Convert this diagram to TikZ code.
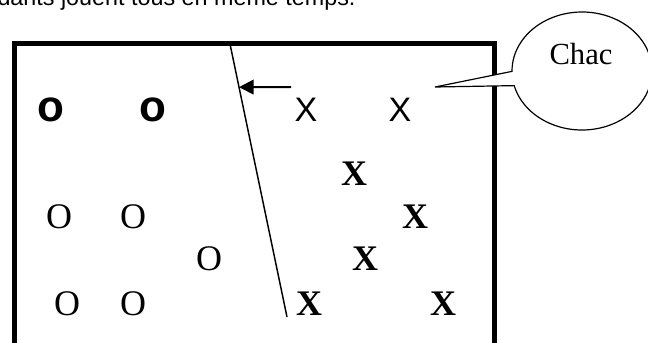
\documentclass[tikz,border=0pt]{standalone}
\usepackage{fontspec}
\setmainfont{Liberation Serif}
\newfontfamily\arialfont{Liberation Sans}
\usetikzlibrary{arrows.meta,calc,shapes.callouts}

\tikzset{every picture/.style={line width=0.75pt}}
\tikzset{
  ohead/.style={inner sep=0pt,font=\arialfont\bfseries\fontsize{33}{36}\selectfont},
  xhead/.style={inner sep=0pt,font=\arialfont\fontsize{25.5}{28}\selectfont},
  omark/.style={inner sep=0pt,font=\fontsize{27}{30}\selectfont},
  xmark/.style={inner sep=0pt,font=\bfseries\fontsize{27}{30}\selectfont}
}

\begin{document}
\begin{tikzpicture}[x=0.75pt,y=0.75pt,yscale=-1,xscale=1]
\useasboundingbox (0,0) rectangle (648,342);
\clip (0,0) rectangle (648,342);

% Text Node
\node [inner sep=0pt,anchor=base east,font=\arialfont\fontsize{17.5}{20}\selectfont] (caption) at (356,6) {dants jouent tous en même temps.};

%Shape: Rectangle
\draw [line width=3.75] (14,44) rectangle (494,380) ;

%Straight Lines
\coordinate (cut top) at (230,44);
\coordinate (cut bottom) at (287,317);
\draw [line width=1.1] (cut top) -- (cut bottom) ;

%Straight Lines
\coordinate (push) at (291,87);
\coordinate (push end) at ($(cut top)!0.158!(cut bottom)$);
\draw [line width=1.5,-{Triangle[length=11pt,width=11pt]}] (push) -- (push end) ;

%Shape: Ellipse callout
\node [ellipse callout,draw,fill=white,line width=0.9,minimum width=105pt,minimum height=88.5pt,inner sep=0pt,callout pointer arc=14,callout absolute pointer={(435,87)}] (bubble) at (582,71) {};

% Text Node
\node [inner sep=0pt,anchor=base,font=\fontsize{23}{26}\selectfont] (chac) at (581,65) {Chac};

% Text Node
\node [ohead] (o1) at (51,110) {o};
% Text Node
\node [ohead] (o2) at (153,110) {o};
% Text Node
\node [xhead] (x1) at (306,110) {X};
% Text Node
\node [xhead] (x2) at (400,110) {X};

% Text Node
\node [omark] (o3) at (59,217) {O};
% Text Node
\node [omark] (o4) at (133,217) {O};
% Text Node
\node [omark] (o5) at (209,259) {O};
% Text Node
\node [omark] (o6) at (67,304) {O};
% Text Node
\node [omark] (o7) at (133,304) {O};

% Text Node
\node [xmark] (x3) at (354,174) {X};
% Text Node
\node [xmark] (x4) at (415,217) {X};
% Text Node
\node [xmark] (x5) at (365,259) {X};
% Text Node
\node [xmark] (x6) at (309,304) {X};
% Text Node
\node [xmark] (x7) at (443,304) {X};

\end{tikzpicture}
\end{document}
